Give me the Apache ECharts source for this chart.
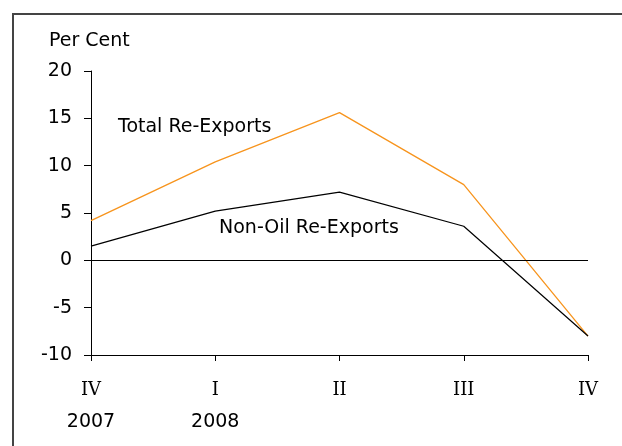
<!DOCTYPE html>
<html>
<head>
<meta charset="utf-8">
<script src="https://cdn.jsdelivr.net/npm/echarts@6/dist/echarts.min.js"></script>
<style>
  html, body { margin: 0; padding: 0; background: #fff; }
  #chart { width: 622px; height: 446px; }
</style>
</head>
<body>
<div id="chart"></div>
<script>
// quarters and years along the bottom
const quarters = ['IV', 'I', 'II', 'III', 'IV']
const years = ['2007', '2008', '', '', '']

// per cent change
const totalReExports = [4.2, 10.4, 15.6, 8.0, -8.0]
const nonOilReExports = [1.5, 5.2, 7.2, 3.6, -8.0]

const yTicks = [-10, -5, 0, 5, 10, 15, 20]

const sans = 'DejaVu Sans'
const chart = echarts.init(document.getElementById('chart'))

chart.setOption({
  backgroundColor: '#fff',
  animation: false,
  grid: { left: 91, right: 34, top: 71, bottom: 91 },
  xAxis: {
    type: 'category',
    data: quarters,
    boundaryGap: false,
    axisLine: { onZero: false, lineStyle: { color: '#000', width: 1 } },
    axisTick: { alignWithLabel: true, length: 6, lineStyle: { color: '#000' } },
    axisLabel: {
      margin: 20,
      formatter: (v, i) => '{q|' + v + '}' + (years[i] ? '\n{y|' + years[i] + '}' : '\n{y| }'),
      rich: {
        q: { fontFamily: 'DejaVu Serif', fontSize: 18, color: '#000', lineHeight: 30 },
        y: { fontFamily: sans, fontSize: 19, color: '#000', lineHeight: 34 }
      }
    },
    splitLine: { show: false }
  },
  yAxis: {
    type: 'value',
    min: yTicks[0],
    max: yTicks[yTicks.length - 1],
    interval: 5,
    axisLine: { show: true, lineStyle: { color: '#000', width: 1 } },
    axisTick: { show: true, length: 7, lineStyle: { color: '#000' } },
    axisLabel: { fontFamily: sans, fontSize: 19, color: '#000', margin: 19 },
    splitLine: { show: false }
  },
  series: [
    {
      name: 'Total Re-Exports',
      type: 'line',
      data: totalReExports,
      symbol: 'none',
      lineStyle: { color: '#F7941D', width: 1.3 },
      z: 3,
      markLine: {
        silent: true,
        symbol: 'none',
        label: { show: false },
        lineStyle: { color: '#000', width: 1, type: 'solid' },
        data: [{ yAxis: 0 }]
      }
    },
    {
      name: 'Non-Oil Re-Exports',
      type: 'line',
      data: nonOilReExports,
      symbol: 'none',
      lineStyle: { color: '#000', width: 1.2 },
      z: 4
    }
  ],
  graphic: [
    { type: 'line', shape: { x1: 12, y1: 14, x2: 640, y2: 14 }, style: { stroke: '#444', lineWidth: 2 } },
    { type: 'line', shape: { x1: 13, y1: 13, x2: 13, y2: 460 }, style: { stroke: '#444', lineWidth: 2 } },
    { type: 'text', x: 49, y: 41, style: { text: 'Per Cent', font: '19px "DejaVu Sans"', fill: '#000', textVerticalAlign: 'middle' } },
    { type: 'text', x: 118, y: 127, style: { text: 'Total Re-Exports', font: '19px "DejaVu Sans"', fill: '#000', textVerticalAlign: 'middle' } },
    { type: 'text', x: 219, y: 228, style: { text: 'Non-Oil Re-Exports', font: '19px "DejaVu Sans"', fill: '#000', textVerticalAlign: 'middle' } }
  ]
})
</script>
</body>
</html>
